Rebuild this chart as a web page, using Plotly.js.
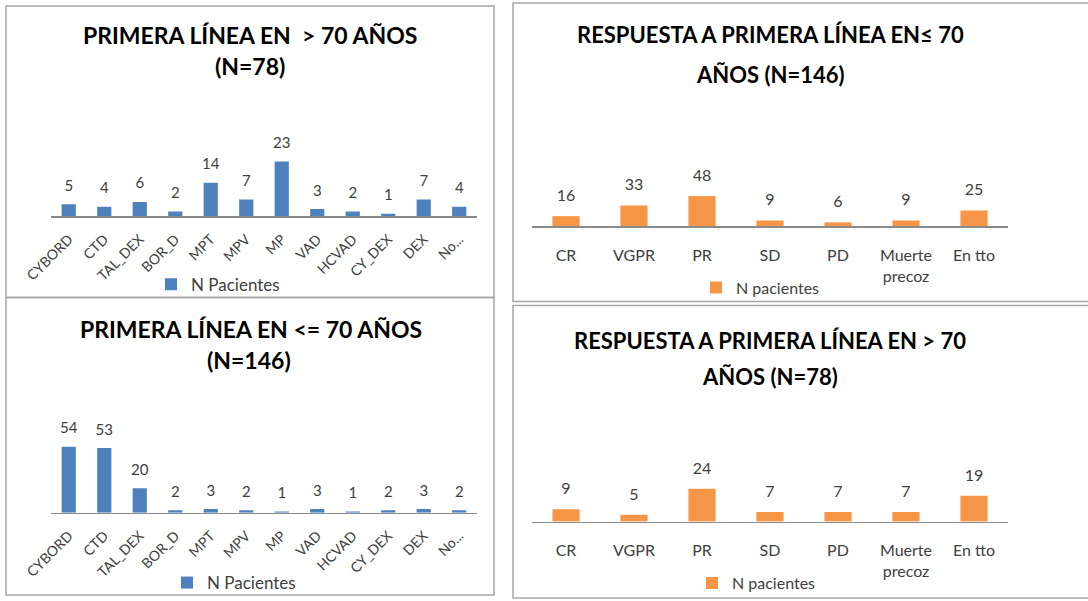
<!DOCTYPE html>
<html><head><meta charset="utf-8">
<script src="https://cdn.plot.ly/plotly-3.0.1.min.js"></script>
<style>html,body{margin:0;padding:0;background:#fff;}#chart{width:1088px;height:601px;}</style>
</head><body><div id="chart"></div>
<script>
// ---- data ----
const treatments = ['CYBORD','CTD','TAL_DEX','BOR_D','MPT','MPV','MP','VAD','HCVAD','CY_DEX','DEX','No...'];
const firstLineOver70 = [5,4,6,2,14,7,23,3,2,1,7,4];
const firstLineUpTo70 = [54,53,20,2,3,2,1,3,1,2,3,2];
const responses = ['CR','VGPR','PR','SD','PD','Muerte<br>precoz','En tto'];
const responseUpTo70 = [16,33,48,9,6,9,25];
const responseOver70 = [9,5,24,7,7,7,19];
const legendLeft = 'N Pacientes';
const legendRight = 'N pacientes';
const titles = [
  ['PRIMERA LÍNEA EN  > 70 AÑOS','(N=78)'],
  ['PRIMERA LÍNEA EN <= 70 AÑOS','(N=146)'],
  ['RESPUESTA A PRIMERA LÍNEA EN≤ 70','AÑOS (N=146)'],
  ['RESPUESTA A PRIMERA LÍNEA EN > 70','AÑOS (N=78)']
];

const W = 1088, H = 601;
const px = x => x / W;
const py = y => 1 - y / H;
const FONT = 'Lato, "Open Sans", sans-serif';
const BLUE = '#4F81BD', ORANGE = '#F79646', TXT = '#404040';

function barTrace(cats, vals, color, ax, name, leg) {
  return {type:'bar', x:cats, y:vals, xaxis:'x'+ax, yaxis:'y'+ax, name:name,
    marker:{color:color}, legend:leg, showlegend:true, hoverinfo:'skip'};
}
function labelTrace(cats, vals, ax, fs, msize) {
  return {type:'scatter', mode:'markers+text', x:cats, y:vals, xaxis:'x'+ax, yaxis:'y'+ax,
    text:vals.map(String), textposition:'top center',
    textfont:{family:FONT, size:fs, color:TXT},
    marker:{size:msize, opacity:0}, showlegend:false, hoverinfo:'skip'};
}

const data = [
  barTrace(treatments, firstLineOver70, BLUE, '', legendLeft, 'legend'),
  labelTrace(treatments, firstLineOver70, '', 15, 14),
  barTrace(treatments, firstLineUpTo70, BLUE, '2', legendLeft, 'legend2'),
  labelTrace(treatments, firstLineUpTo70, '2', 15, 14),
  barTrace(responses, responseUpTo70, ORANGE, '3', legendRight, 'legend3'),
  labelTrace(responses, responseUpTo70, '3', 16, 16),
  barTrace(responses, responseOver70, ORANGE, '4', legendRight, 'legend4'),
  labelTrace(responses, responseOver70, '4', 16, 16)
];

function xax(d0, d1, anchor, n, angle, fs, standoff) {
  const a = {domain:[d0,d1], anchor:anchor, type:'category', range:[-0.5, n-0.5], autorange:false,
    showline:true, linecolor:'#8a8a8a',
    linewidth:1.5, ticks:'', showgrid:false, zeroline:false, tickangle:angle,
    tickfont:{family:FONT, size:fs, color:TXT}, fixedrange:true};
  if (standoff) a.ticklabelstandoff = standoff;
  return a;
}
function yax(b, t, anchor, r) {
  return {domain:[py(b), py(t)], anchor:anchor, range:[0,r], autorange:false, visible:false, fixedrange:true};
}
function leg(x, y, fs) {
  return {x:px(x), y:py(y), xanchor:'left', yanchor:'middle', orientation:'h',
    font:{family:FONT, size:fs, color:TXT}, bgcolor:'rgba(0,0,0,0)'};
}

const annotations = [];
const titlePos = [[250,35,250,67,23],[251,332,249,363,23],[770,35,770,75,22],[770,343,770,380,22]];
titles.forEach((t,i) => {
  const p = titlePos[i];
  annotations.push({text:'<b>'+t[0]+'</b>', x:px(p[0]), y:py(p[1]), xref:'paper', yref:'paper',
    xanchor:'center', yanchor:'middle', showarrow:false, font:{family:FONT, size:p[4], color:'#000'}});
  annotations.push({text:'<b>'+t[1]+'</b>', x:px(p[2]), y:py(p[3]), xref:'paper', yref:'paper',
    xanchor:'center', yanchor:'middle', showarrow:false, font:{family:FONT, size:p[4], color:'#000'}});
});

function box(x0,y0,x1,y1) {
  return {type:'rect', xref:'paper', yref:'paper', x0:px(x0), x1:px(x1), y0:py(y0), y1:py(y1),
    line:{color:'#a6a6a6', width:1.5}, fillcolor:'rgba(0,0,0,0)'};
}

const layout = {
  width:W, height:H, margin:{l:0,r:0,t:0,b:0}, paper_bgcolor:'#fff', plot_bgcolor:'rgba(0,0,0,0)',
  bargap:0.6, showlegend:true,
  xaxis: xax(px(51), px(477), 'y', treatments.length, -45, 14, 8),
  yaxis: yax(218, 100, 'x', 118/2.4),
  xaxis2: xax(px(51), px(477), 'y2', treatments.length, -45, 14, 8),
  yaxis2: yax(517, 400, 'x2', 117/1.23),
  xaxis3: xax(px(532), px(1008), 'y3', responses.length, 0, 16, 14),
  yaxis3: yax(228, 120, 'x3', 108/0.63),
  xaxis4: xax(px(532), px(1008), 'y4', responses.length, 0, 16, 14),
  yaxis4: yax(526, 420, 'x4', 106/1.38),
  legend: leg(151, 287, 17),
  legend2: leg(167, 588, 17),
  legend3: leg(696, 290, 16),
  legend4: leg(692, 588, 16),
  annotations: annotations,
  shapes: [box(6,6,494,300), box(6,300,494,600), box(513,3,1092,304), box(513,308,1092,603)]
};

Plotly.newPlot('chart', data, layout, {displayModeBar:false, staticPlot:true});
</script>
</body></html>
